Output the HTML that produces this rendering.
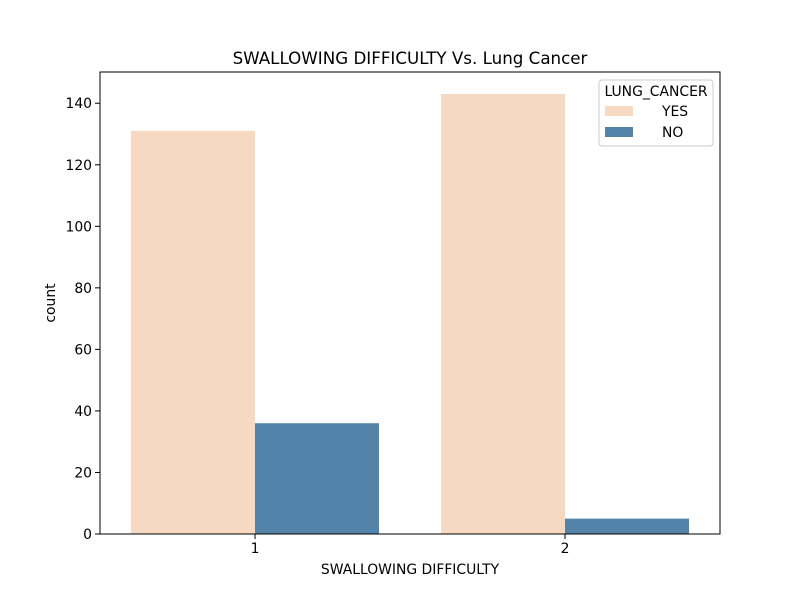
<!DOCTYPE html>
<html><head><meta charset="utf-8"><style>body{margin:0;background:#fff}svg{display:block}text{font-family:"DejaVu Sans","Liberation Sans",sans-serif;fill:#000}</style></head>
<body>
<svg id="chart" width="800" height="600">
<rect x="0" y="0" width="800" height="600" fill="#fff"/>
<text x="410" y="64" font-size="16.7" text-anchor="middle">SWALLOWING DIFFICULTY Vs. Lung Cancer</text>
<g id="bars"></g>
<g id="axes"></g>
<text x="410" y="574" font-size="13.9" text-anchor="middle">SWALLOWING DIFFICULTY</text>
<text transform="translate(55,303) rotate(-90)" font-size="13.9" text-anchor="middle">count</text>
<g>
<rect x="599" y="80" width="114" height="66" fill="#fff" stroke="#ccc" rx="3"/>
<text x="656" y="96" font-size="13.9" text-anchor="middle">LUNG_CANCER</text>
<rect x="605" y="106" width="28" height="10" fill="#f7d9c1"/>
<text x="662" y="116" font-size="13.9">YES</text>
<rect x="605" y="127" width="28" height="10" fill="#5383a9"/>
<text x="662" y="137" font-size="13.9">NO</text>
</g>
</svg>
<script>
const categories = ["1","2"];
const yesValues = [131, 143];
const noValues = [36, 5];
const yTicks = [0,20,40,60,80,100,120,140];
const L=100,R=720,T=72,B=534,YMAX=150.15;
const ns="http://www.w3.org/2000/svg";
const y=v=>B-(v/YMAX)*(B-T);
const band=(R-L)/categories.length;
const xc=i=>L+band*(i+0.5);
const bw=band*0.4;
const bars=document.getElementById('bars'), axes=document.getElementById('axes');
function mk(tag,attrs,parent){const e=document.createElementNS(ns,tag);for(const k in attrs)e.setAttribute(k,attrs[k]);parent.appendChild(e);return e;}
categories.forEach((c,i)=>{
  const a=mk('rect',{x:xc(i)-bw,y:y(yesValues[i]),width:bw,height:B-y(yesValues[i]),fill:'#f7d9c1'},bars);
  
  
  const b=mk('rect',{x:xc(i),y:y(noValues[i]),width:bw,height:B-y(noValues[i]),fill:'#5383a9'},bars);
  
  
  mk('line',{x1:xc(i),x2:xc(i),y1:B,y2:B+5,stroke:'#000'},axes);
  const t=mk('text',{x:xc(i),y:B+19,'font-size':13.9,'text-anchor':'middle'},axes);
  t.textContent=c;
  
  
});
yTicks.forEach(v=>{
  mk('line',{x1:L-5,x2:L,y1:y(v),y2:y(v),stroke:'#000'},axes);
  const t=mk('text',{x:L-8,y:y(v)+5,'font-size':13.9,'text-anchor':'end'},axes);
  t.textContent=v;
  
  
});
const f=mk('rect',{x:L,y:T,width:R-L,height:B-T,fill:'none',stroke:'#000','stroke-width':1},axes);


</script>
</body></html>
